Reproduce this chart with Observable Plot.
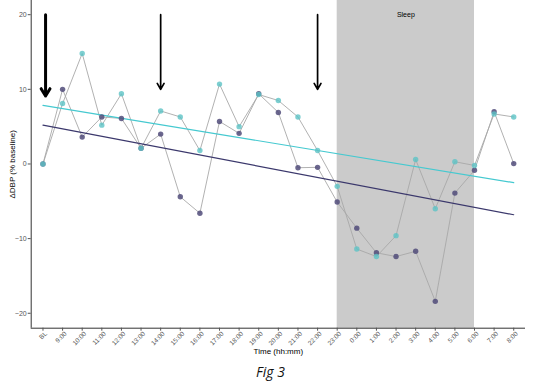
<!DOCTYPE html>
<html>
<head>
<meta charset="utf-8">
<script src="https://cdn.jsdelivr.net/npm/d3@7"></script>
<script src="https://cdn.jsdelivr.net/npm/@observablehq/plot@0.6"></script>
<style>
  html, body { margin: 0; padding: 0; background: #fff; }
  #wrap { width: 541px; height: 386px; position: relative; }
  #caption { position: absolute; left: 0; width: 541px; top: 362px; text-align: center;
    font-family: "Open Sans", "Liberation Sans", sans-serif; font-style: italic; font-size: 14px; color: #111; }
</style>
</head>
<body>
<div id="wrap"><div id="chart"></div><div id="caption">Fig 3</div></div>
<script>
const times = ["BL","9:00","10:00","11:00","12:00","13:00","14:00","15:00","16:00","17:00","18:00","19:00","20:00","21:00","22:00","23:00","0:00","1:00","2:00","3:00","4:00","5:00","6:00","7:00","8:00"];
const tealValues = [0, 8.1, 14.8, 5.2, 9.4, 2.1, 7.1, 6.3, 1.8, 10.7, 5.0, 9.3, 8.5, 6.3, 1.8, -3.0, -11.4, -12.4, -9.6, 0.6, -6.0, 0.3, -0.2, 6.7, 6.3];
const darkValues = [0, 10.0, 3.6, 6.3, 6.1, 2.1, 4.0, -4.4, -6.6, 5.7, 4.1, 9.4, 6.9, -0.5, -0.45, -5.1, -8.6, -11.9, -12.4, -11.7, -18.4, -3.9, -0.85, 7.0, 0.05];
const trendTimes = ["BL", "8:00"];
const tealTrend = [7.85, -2.5];
const darkTrend = [5.2, -6.8];
const arrowTimes = ["BL", "14:00", "22:00"];
const arrowTips = [9.1, 10, 10];
const arrowTop = 20;
const sleepRange = ["23:00", "6:00"];
const sleepLabel = "Sleep";
const yTicks = [-20, -10, 0, 10, 20];
const yDomain = [-22, 21.9];

const idx = t => times.indexOf(t);
const tealData = times.map((t, i) => ({i, v: tealValues[i]}));
const darkData = times.map((t, i) => ({i, v: darkValues[i]}));
const tealTrendData = trendTimes.map((t, k) => ({i: idx(t), v: tealTrend[k]}));
const darkTrendData = trendTimes.map((t, k) => ({i: idx(t), v: darkTrend[k]}));
const arrows = arrowTimes.map((t, k) => ({i: idx(t), tip: arrowTips[k]}));
const tickData = times.map((t, i) => ({i, t, base: yDomain[0]}));

const TEAL = "#5cc3c6", DARK = "#514c7a";

const plot = Plot.plot({
  width: 541,
  height: 360,
  marginTop: 0,
  marginBottom: 32.3,
  marginLeft: 30.7,
  marginRight: 16,
  style: {fontFamily: "Liberation Sans, Arial, sans-serif", background: "#fff"},
  x: {domain: [-0.6, times.length - 0.4]},
  y: {domain: yDomain},
  marks: [
    Plot.rect([0], {x1: () => idx(sleepRange[0]), x2: () => idx(sleepRange[1]), y1: yDomain[0], y2: yDomain[1], fill: "#cbcbcb"}),
    Plot.text([sleepLabel], {x: () => (idx(sleepRange[0]) + idx(sleepRange[1])) / 2, y: 20, text: d => d, fontSize: 7, fill: "#000", fontWeight: 500}),
    Plot.line(tealData, {x: "i", y: "v", stroke: "#a8a8a8", strokeWidth: 0.9}),
    Plot.line(darkData, {x: "i", y: "v", stroke: "#a8a8a8", strokeWidth: 0.9}),
    Plot.line(tealTrendData, {x: "i", y: "v", stroke: "#45c9d0", strokeWidth: 1.2}),
    Plot.line(darkTrendData, {x: "i", y: "v", stroke: "#3b386c", strokeWidth: 1.2}),
    Plot.dot(darkData, {x: "i", y: "v", r: 2.7, fill: DARK, fillOpacity: 0.85, stroke: "none"}),
    Plot.dot(tealData, {x: "i", y: "v", r: 2.7, fill: TEAL, fillOpacity: 0.8, stroke: "none"}),
    Plot.arrow(arrows.slice(0, 1), {x1: "i", x2: "i", y1: arrowTop, y2: "tip", dx: 2.6, stroke: "#000", strokeWidth: 3, headLength: 4.3, headAngle: 62}),
    Plot.arrow(arrows.slice(1), {x1: "i", x2: "i", y1: arrowTop, y2: "tip", stroke: "#000", strokeWidth: 1.7, headLength: 6, headAngle: 60}),
    Plot.ruleX([0], {x: -0.6, y1: yDomain[0], y2: yDomain[1], stroke: "#333", strokeWidth: 1}),
    Plot.ruleY([0], {y: yDomain[0], stroke: "#333", strokeWidth: 1}),
    Plot.axisY({ticks: yTicks, tickSize: 3, tickPadding: 1.5, fontSize: 7, color: "#555", stroke: "#555",
      label: "ΔDBP (% baseline)", labelAnchor: "center", labelArrow: "none", labelOffset: 22}),
    Plot.axisX({ticks: d3.range(times.length), tickFormat: () => "", tickSize: 3, stroke: "#555", label: null}),
    Plot.text(tickData, {x: "i", y: "base", text: "t", rotate: -45, textAnchor: "end", dx: 3, dy: 4.5, fontSize: 6.5, fill: "#555"}),
    Plot.text(["Time (hh:mm)"], {frameAnchor: "bottom", dy: 26, fontSize: 8, fill: "#000", text: d => d})
  ]
});
plot.querySelectorAll("g[aria-label='y-axis label'] text").forEach(t => { t.setAttribute("font-size", 8); t.setAttribute("fill", "#000"); t.style.fill = "#000"; });
document.getElementById("chart").appendChild(plot);
</script>
</body>
</html>
